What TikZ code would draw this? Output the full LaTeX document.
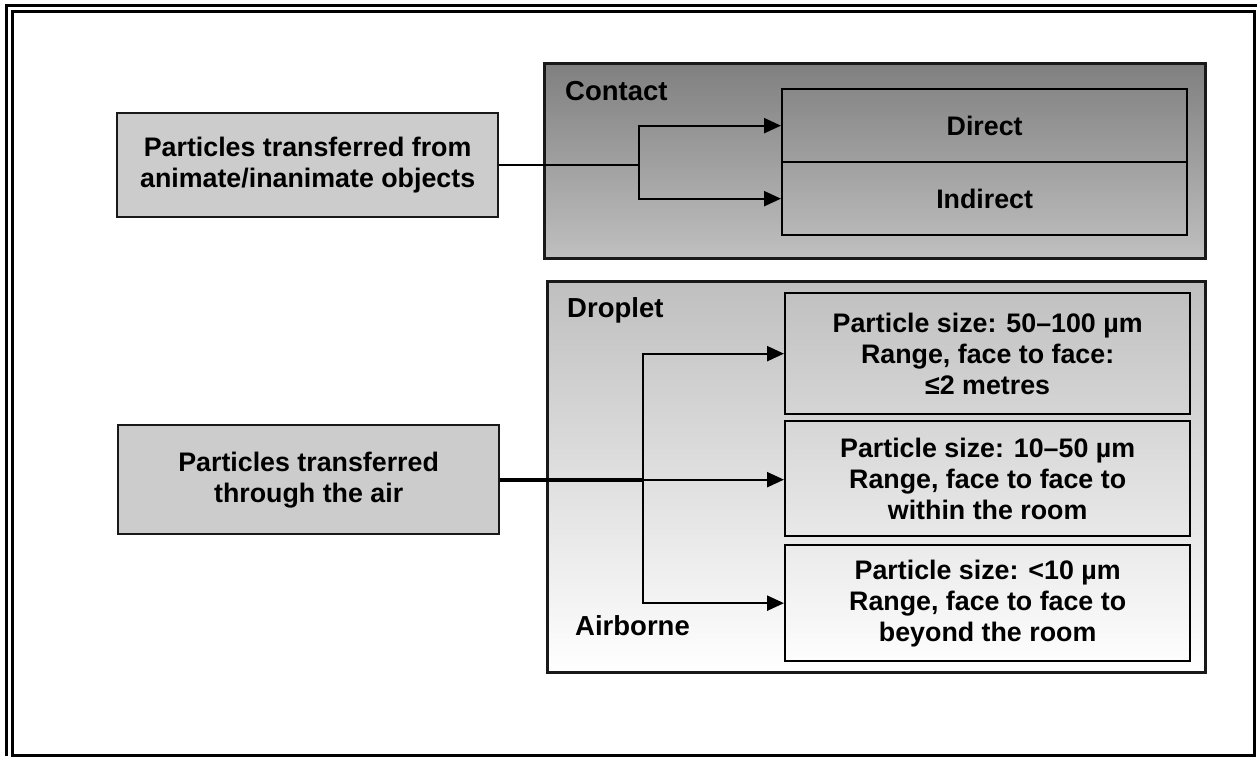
\documentclass[tikz,border=0pt]{standalone}
\usepackage{fontspec}
\setmainfont{Liberation Sans}
\usetikzlibrary{arrows.meta}
\begin{document}
\begin{tikzpicture}[x=1pt,y=-1pt,
  txt/.style={font=\fontsize{26.8}{31}\bfseries\selectfont, align=center, inner sep=0pt},
  leftbox/.style={draw=black!90, line width=2.3pt, fill=black!20, txt, anchor=north west},
  subbox/.style={draw=black, line width=2.3pt, txt, anchor=north west},
  groupbox/.style={draw=black!90, line width=2.5pt, anchor=north west, inner sep=0pt},
  lbl/.style={font=\fontsize{27.5}{31}\bfseries\selectfont, anchor=base west, inner sep=0pt},
  conn/.style={line width=2.3pt},
  arr/.style={conn, -{Triangle[length=17pt,width=15pt]}},
]
\useasboundingbox (0,0) rectangle (1257,756);
\fill[white] (0,0) rectangle (1257,756);
% frame
\draw[line width=3pt] (6,756) -- (6,5) -- (1257,5);
\draw[line width=3pt] (12,11) rectangle (1254,755);

% group boxes
\node[groupbox, top color=black!50, bottom color=black!25, minimum width=661pt, minimum height=195pt] (contact) at (543,62) {};
\node[groupbox, top color=black!25, bottom color=white, minimum width=658pt, minimum height=391pt] (droplet) at (546,280) {};

\node[lbl] (lcontact) at (565,100) {Contact};
\node[lbl] (ldroplet) at (567,317) {Droplet};
\node[lbl] (lairborne) at (575,635) {Airborne};

% left boxes
\node[leftbox, minimum width=381pt, minimum height=104pt] (left1) at (116,112) {Particles transferred from\\animate/inanimate objects};
\node[leftbox, minimum width=381pt, minimum height=109pt] (air) at (117,424) {Particles transferred\\through the air};

% contact sub boxes
\node[subbox, minimum width=405pt, minimum height=73pt] (direct) at (781,88) {Direct};
\node[subbox, minimum width=405pt, minimum height=73pt] (indirect) at (781,161) {Indirect};

% droplet sub boxes
\node[subbox, minimum width=405pt, minimum height=121pt] (b1) at (784,292) {Particle size: 50–100 µm\\Range, face to face:\\≤2 metres};
\node[subbox, minimum width=405pt, minimum height=115pt] (b2) at (784,420) {Particle size: 10–50 µm\\Range, face to face to\\within the room};
\node[subbox, minimum width=405pt, minimum height=116pt] (b3) at (784,544) {Particle size: <10 µm\\Range, face to face to\\beyond the room};

% connectors
\coordinate (j1) at (639,0);
\draw[conn] (left1.east) -- (left1.east -| j1) coordinate (jm);
\draw[arr] (jm) |- (direct.west);
\draw[arr] (jm) |- (indirect.west);

\coordinate (j2) at (643,0);
\draw[line width=4pt] (air.east) -- (air.east -| j2) coordinate (jn);
\draw[arr] (jn) -- (jn -| b2.west);
\draw[arr] (jn) |- (b1.west);
\draw[arr] (jn) |- (b3.west);
\end{tikzpicture}
\end{document}
